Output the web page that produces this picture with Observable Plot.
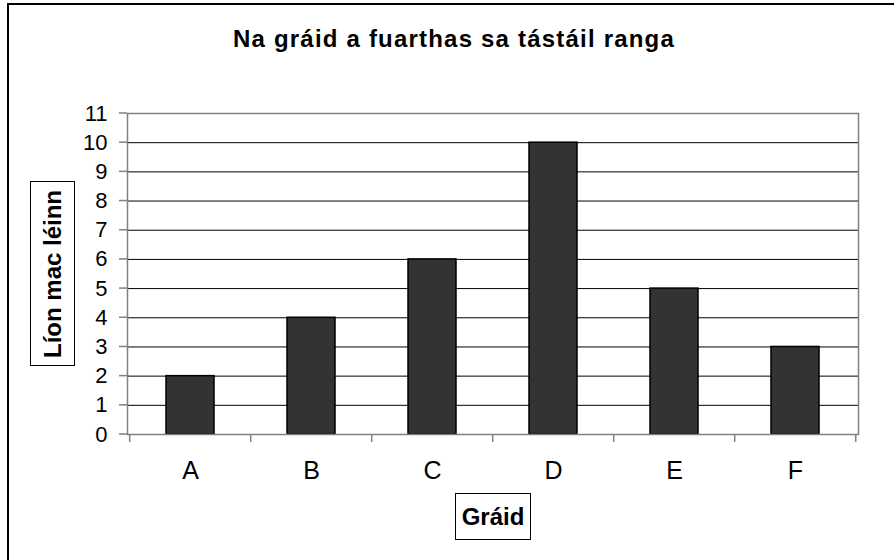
<!DOCTYPE html>
<html>
<head>
<meta charset="utf-8">
<script src="https://cdn.jsdelivr.net/npm/d3@7"></script>
<script src="https://cdn.jsdelivr.net/npm/@observablehq/plot@0.6"></script>
<style>
  html, body { margin: 0; padding: 0; background: #fff; }
  #wrap { position: relative; width: 894px; height: 560px; overflow: hidden; font-family: "Liberation Sans", Arial, sans-serif; }
  #border { position: absolute; left: 7px; top: 3px; width: 2000px; height: 2000px; border-left: 2px solid #000; border-top: 2px solid #000; box-sizing: border-box; }
  #title { position: absolute; top: 27px; left: 454px; transform: translateX(-50%); font-weight: bold; font-size: 24px; line-height: 24px; letter-spacing: 1.2px; white-space: nowrap; }
  #ylab { position: absolute; left: 30px; top: 181px; width: 45px; height: 185px; border: 1.5px solid #000; box-sizing: border-box; background: #fff; }
  #ylab span { position: absolute; left: 50%; top: 50%; transform: translate(-50%, -50%) rotate(-90deg); font-weight: bold; font-size: 24px; white-space: nowrap; }
  #xlab { position: absolute; left: 455px; top: 493px; width: 76px; height: 47px; border: 1.5px solid #000; box-sizing: border-box; background: #fff; display: flex; align-items: center; justify-content: center; font-weight: bold; font-size: 24px; }
  #chart { position: absolute; left: 0; top: 0; }
</style>
</head>
<body>
<div id="wrap">
  <div id="chart"></div>
  <div id="border"></div>
  <div id="title">Na gráid a fuarthas sa tástáil ranga</div>
  <div id="ylab"><span>Líon mac léinn</span></div>
  <div id="xlab">Gráid</div>
</div>
<script>
const categories = ["A", "B", "C", "D", "E", "F"];
const counts = [2, 4, 6, 10, 5, 3];
const yTicks = [0, 1, 2, 3, 4, 5, 6, 7, 8, 9, 10, 11];
const gridValues = [1, 2, 3, 4, 5, 6, 7, 8, 9, 10];

const data = categories.map((c, i) => ({grade: c, count: counts[i]}));

const tickLines = (index, scales, values, dimensions) => {
  const x = scales.x, y = scales.y;
  const step = x(categories[1]) - x(categories[0]);
  const bw = typeof x.bandwidth === "number" ? x.bandwidth : step * 0.4;
  const start = x(categories[0]) - (step - bw) / 2;
  const left = dimensions.marginLeft;
  const y0 = dimensions.height - dimensions.marginBottom;
  const g = d3.create("svg:g").attr("stroke", "#808080").attr("stroke-width", 1.5);
  for (let i = 0; i <= categories.length; i++) {
    const px = start + i * step;
    if (!isFinite(px)) continue;
    g.append("line").attr("x1", px).attr("x2", px).attr("y1", y0).attr("y2", y0 + 8);
  }
  for (const t of yTicks) {
    const py = y(t);
    if (!isFinite(py)) continue;
    g.append("line").attr("x1", left - 8).attr("x2", left).attr("y1", py).attr("y2", py);
  }
  return g.node();
};

const chart = Plot.plot({
  width: 894,
  height: 560,
  marginLeft: 127,
  marginRight: 36,
  marginTop: 113,
  marginBottom: 126,
  style: {fontFamily: "Liberation Sans, Arial, sans-serif", color: "#000", background: "transparent"},
  x: {type: "band", domain: categories, paddingInner: 0.6, paddingOuter: 0.3, label: null, axis: null},
  y: {domain: [0, 11], label: null, axis: null},
  marks: [
    Plot.ruleY(gridValues, {stroke: "#000", strokeWidth: 1}),
    Plot.barY(data, {x: "grade", y: "count", fill: "#333333", stroke: "#000", strokeWidth: 1.5}),
    Plot.frame({stroke: "#808080", strokeWidth: 1.5}),
    Plot.text(yTicks, {y: d => d, text: d => String(d), frameAnchor: "left", textAnchor: "end", dx: -20, fontSize: 22, fill: "#000"}),
    Plot.text(categories, {x: d => d, text: d => d, frameAnchor: "bottom", lineAnchor: "top", dy: 27, fontSize: 25, fill: "#000"}),
    tickLines
  ]
});
document.getElementById("chart").appendChild(chart);
</script>
</body>
</html>
